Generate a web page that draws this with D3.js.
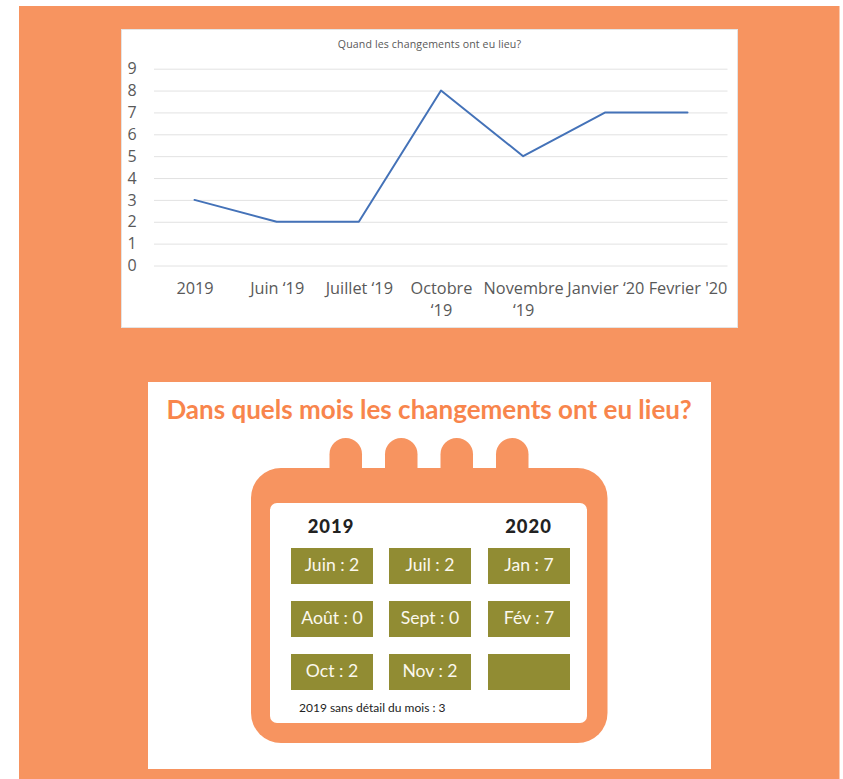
<!DOCTYPE html>
<html>
<head>
<meta charset="utf-8">
<style>html,body{margin:0;padding:0;background:#fff}svg{display:block}</style>
<script src="https://cdn.jsdelivr.net/npm/d3@7/dist/d3.min.js"></script>
</head>
<body>
<svg id="c" width="843" height="779"></svg>
<script>
const chartTitle = "Quand les changements ont eu lieu?";
const categories = ["2019", "Juin ‘19", "Juillet ‘19", "Octobre\n‘19", "Novembre\n‘19", "Janvier ‘20", "Fevrier '20"];
const values = [3, 2, 2, 8, 5, 7, 7];
const yTicks = [0, 1, 2, 3, 4, 5, 6, 7, 8, 9];

const calendarTitle = "Dans quels mois les changements ont eu lieu?";
const calendarYears = ["2019", "2020"];
const calendarColumns = [0, 1, 2];
const calendarRows = [0, 1, 2];
const calendarCells = ["Juin : 2", "Juil : 2", "Jan : 7", "Août : 0", "Sept : 0", "Fév : 7", "Oct : 2", "Nov : 2", ""];
const calendarNote = "2019 sans détail du mois : 3";
const calendarTabs = [0, 1, 2, 3];

const ORANGE = "#f79460", OLIVE = "#918c33", GRID = "#e2e2e2", LINE = "#4472b8", AXIS_TEXT = "#595959";
const svg = d3.select("#c");

svg.append("rect").attr("x", 19).attr("y", 6).attr("width", 820.5).attr("height", 773).attr("fill", ORANGE);

// top chart
svg.append("rect").attr("x", 121.5).attr("y", 29.5).attr("width", 616).attr("height", 298).attr("fill", "#fff").attr("stroke", "#e4e4e4").attr("stroke-width", 1);

const x = d3.scalePoint().domain(categories).range([194.5, 687.5]);
const y = d3.scaleLinear().domain([0, 9]).range([265.5, 68.7]);

svg.append("text").attr("x", 429.5).attr("y", 48).attr("text-anchor", "middle")
  .attr("font-family", "'Open Sans'").attr("font-size", 10.6).attr("letter-spacing", 0.12).attr("fill", AXIS_TEXT).text(chartTitle);

const yAxis = d3.axisLeft(y).tickValues(yTicks).tickSize(-(727.5 - 154)).tickPadding(17);
const gy = svg.append("g").attr("transform", "translate(154,0)").call(yAxis);
gy.select(".domain").remove();
gy.selectAll(".tick line").attr("stroke", GRID).attr("stroke-width", 1);
gy.selectAll(".tick text").attr("font-family", "'Open Sans'").attr("font-size", 16).attr("fill", AXIS_TEXT).attr("text-anchor", "middle").attr("x", -22);

const xAxis = d3.axisBottom(x).tickSize(0).tickPadding(0).tickFormat(() => "");
const gx = svg.append("g").attr("transform", "translate(0,265.5)").call(xAxis);
gx.select(".domain").remove();
gx.selectAll(".tick text").each(function (d) {
  const t = d3.select(this).attr("font-family", "'Open Sans'").attr("font-size", 16.3).attr("fill", AXIS_TEXT).attr("y", 0).attr("dy", null).text(null);
  d.split("\n").forEach((s, i) => t.append("tspan").attr("x", 0).attr("y", 28.5 + i * 22.3).text(s));
});

svg.append("path").datum(values)
  .attr("d", d3.line().x((d, i) => x(categories[i])).y(d => y(d)))
  .attr("fill", "none").attr("stroke", LINE).attr("stroke-width", 2).attr("stroke-linecap", "round").attr("stroke-linejoin", "round");

// lower panel
svg.append("rect").attr("x", 148).attr("y", 382).attr("width", 563).attr("height", 387).attr("fill", "#fff");
svg.append("text").attr("x", 429).attr("y", 419).attr("text-anchor", "middle")
  .attr("font-family", "Lato").attr("font-weight", 700).attr("font-size", 26).attr("fill", "#f8854c").text(calendarTitle);

const tabX = d3.scalePoint().domain(calendarTabs).range([329.5, 496]);
svg.append("g").selectAll("rect").data(calendarTabs).join("rect")
  .attr("x", d => tabX(d)).attr("y", 438).attr("width", 32.5).attr("height", 60).attr("rx", 16.2).attr("fill", ORANGE);
svg.append("rect").attr("x", 251).attr("y", 468).attr("width", 356.5).attr("height", 275).attr("rx", 30).attr("fill", ORANGE);
svg.append("rect").attr("x", 270).attr("y", 503).attr("width", 317).attr("height", 220).attr("rx", 7).attr("fill", "#fff");

const colX = d3.scaleOrdinal().domain(calendarColumns).range([291, 389, 488]);
const rowY = d3.scalePoint().domain(calendarRows).range([548, 654]);
const cells = calendarCells.map((label, i) => ({label, col: i % 3, row: Math.floor(i / 3)}));

const cellG = svg.append("g").selectAll("g").data(cells).join("g")
  .attr("transform", d => `translate(${colX(d.col)},${rowY(d.row)})`);
cellG.append("rect").attr("width", 82).attr("height", 36).attr("fill", OLIVE);
cellG.append("text").attr("x", 41).attr("y", 23).attr("text-anchor", "middle")
  .attr("font-family", "Lato").attr("font-size", 17.6).attr("fill", "#fbf8ee").text(d => d.label);

svg.append("g").selectAll("text").data(calendarYears).join("text")
  .attr("x", (d, i) => colX(i * 2) + 41 - (i ? 0.5 : 1)).attr("y", 533).attr("text-anchor", "middle")
  .attr("font-family", "Lato").attr("font-weight", 900).attr("font-size", 18.4).attr("letter-spacing", 1).attr("fill", "#222").text(d => d);

svg.append("text").attr("x", 299).attr("y", 712)
  .attr("font-family", "Lato").attr("font-size", 12).attr("fill", "#222").text(calendarNote);
</script>
</body>
</html>
